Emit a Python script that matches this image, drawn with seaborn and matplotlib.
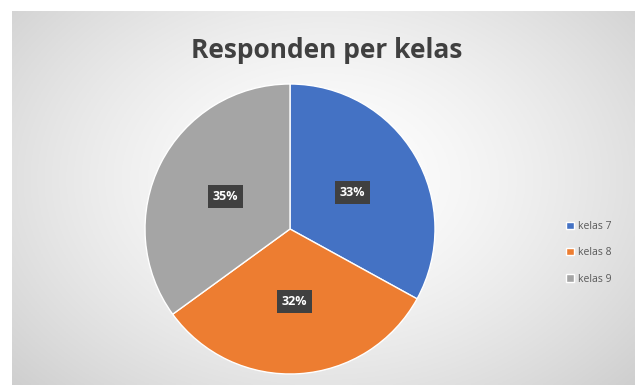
import numpy as np
import matplotlib
matplotlib.use("Agg")
import matplotlib.pyplot as plt
import seaborn as sns

categories = ["kelas 7", "kelas 8", "kelas 9"]
values = [33, 32, 35]
title = "Responden per kelas"

sns.set_theme(style="white")
plt.rcParams['font.family'] = ['Open Sans', 'DejaVu Sans']

colors = ["#4472C4", "#ED7D31", "#A5A5A5"]

W, H = 635, 385
fig = plt.figure(figsize=(W / 100, H / 100), dpi=100)
fig.patch.set_facecolor("white")

# background gradient panel
bg = fig.add_axes([12 / W, 0, (W - 12) / W, (H - 11) / H])
bg.set_axis_off()
yy, xx = np.mgrid[0:1:200j, 0:1:300j]
d = np.sqrt(((xx - 0.5) / 0.75) ** 2 + ((yy - 0.55) / 0.9) ** 2)
g = 1.0 - 0.22 * np.clip(d, 0, 1) ** 1.5
bg.imshow(np.dstack([g, g, g]), extent=[0, 1, 0, 1], aspect="auto", origin="lower")

# pie axes: center (290,228), radius 145
r = 145
ax = fig.add_axes([(290 - r) / W, (H - 229 - r) / H, 2 * r / W, 2 * r / H])
wedges, texts, autotexts = ax.pie(
    values, colors=colors, startangle=90, counterclock=False,
    autopct=lambda p: f"{p:.0f}%", pctdistance=0.5,
    wedgeprops=dict(edgecolor="white", linewidth=1),
    textprops=dict(color="white", fontsize=9, fontweight="bold"),
)
for t in autotexts:
    t.set_bbox(dict(boxstyle="square,pad=0.4", facecolor="#404040", edgecolor="none"))
ax.set_xlim(-1, 1)
ax.set_ylim(-1, 1)
ax.set_aspect("equal")

fig.text(327 / W, 1 - 51 / H, title, ha="center", va="center",
         fontsize=19, fontweight="bold", color="#404040")

fig.legend(wedges, categories, loc="center left", bbox_to_anchor=(557 / W, 1 - 253 / H),
           frameon=False, fontsize=7.5, labelcolor="#595959", handlelength=0.7,
           handleheight=0.7, handletextpad=0.4, labelspacing=1.45)

fig.savefig("out.png", dpi=100)
